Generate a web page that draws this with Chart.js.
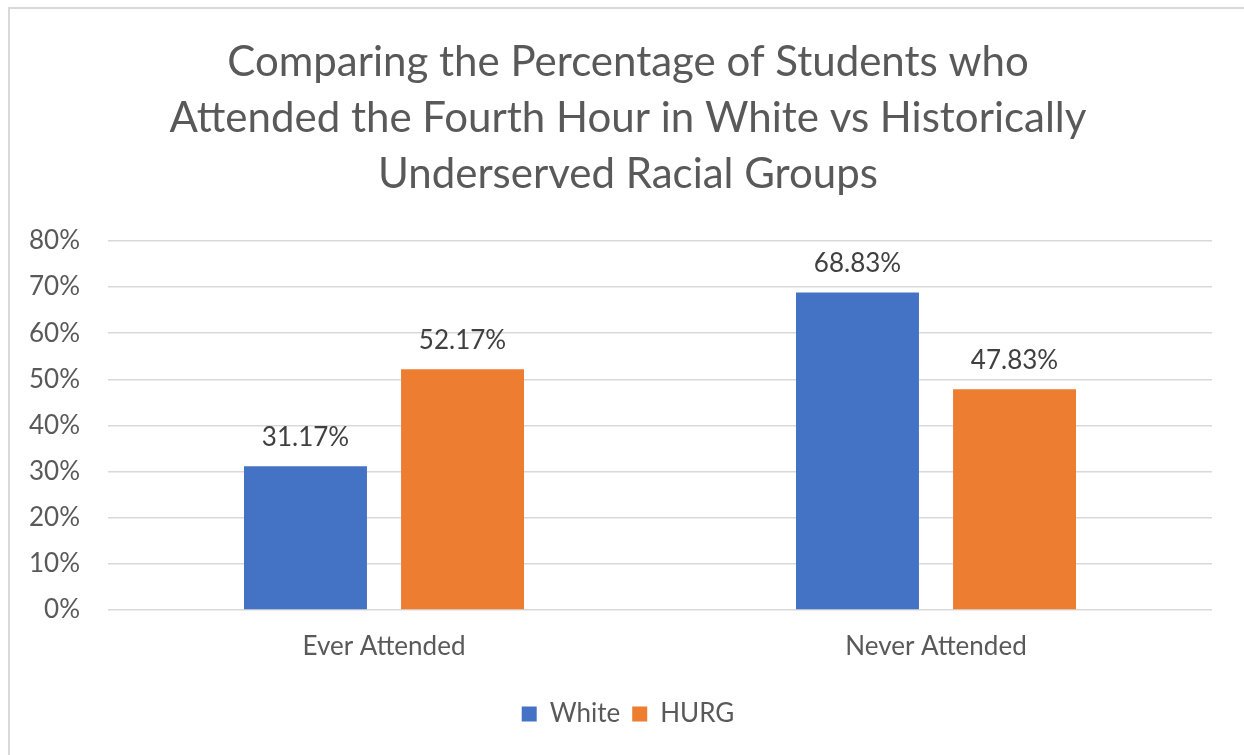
<!DOCTYPE html>
<html>
<head>
<meta charset="utf-8">
<script src="https://cdn.jsdelivr.net/npm/chart.js@4.4.1/dist/chart.umd.min.js"></script>
<style>
  html, body { margin: 0; padding: 0; background: #ffffff; overflow: hidden; }
  #frame {
    position: absolute; left: 8px; top: 7px; width: 1300px; height: 800px;
    border-left: 2px solid #d9d9d9; border-top: 2px solid #d9d9d9;
  }
  #wrap { position: absolute; left: 0; top: 0; width: 1244px; height: 755px; }
</style>
</head>
<body>
<div id="frame"></div>
<div id="wrap"><canvas id="chart" width="1244" height="755"></canvas></div>
<script>
const categories = ['Ever Attended', 'Never Attended'];
const whiteValues = [31.17, 68.83];
const hurgValues = [52.17, 47.83];
const seriesNames = ['White', 'HURG'];
const titleLines = [
  'Comparing the Percentage of Students who',
  'Attended the Fourth Hour in White vs Historically',
  'Underserved Racial Groups'
];

const FONT = 'Lato, "Open Sans", sans-serif';
const TEXT = '#595959';

// Writes each bar's value above it
const valueLabels = {
  id: 'valueLabels',
  afterDatasetsDraw(chart) {
    const ctx = chart.ctx;
    ctx.save();
    ctx.font = '26px ' + FONT;
    ctx.fillStyle = '#404040';
    ctx.textAlign = 'center';
    ctx.textBaseline = 'middle';
    chart.data.datasets.forEach((ds, i) => {
      chart.getDatasetMeta(i).data.forEach((bar, j) => {
        ctx.fillText(ds.data[j].toFixed(2) + '%', bar.x, bar.y - 29);
      });
    });
    ctx.restore();
  }
};

new Chart(document.getElementById('chart'), {
  type: 'bar',
  data: {
    labels: categories,
    datasets: [
      { label: seriesNames[0], data: whiteValues, backgroundColor: '#4472C4' },
      { label: seriesNames[1], data: hurgValues, backgroundColor: '#ED7D31' }
    ]
  },
  options: {
    responsive: false,
    animation: false,
    devicePixelRatio: 1,
    layout: { padding: { left: 20, right: 8, top: 0, bottom: 18 } },
    datasets: { bar: { categoryPercentage: 0.569, barPercentage: 0.783 } },
    scales: {
      x: {
        grid: { display: false },
        border: { display: false },
        ticks: { color: TEXT, font: { family: FONT, size: 26 }, padding: 13 },
        afterFit(scale) { scale.height = 79; }
      },
      y: {
        min: 0, max: 80,
        ticks: {
          stepSize: 10,
          color: TEXT,
          font: { family: FONT, size: 26 },
          padding: 28,
          callback: v => v + '%'
        },
        grid: { color: '#d9d9d9', lineWidth: 1.5, drawTicks: false },
        border: { display: false },
        afterFit(scale) { scale.width = 88; }
      },
      // empty right-hand margin so the plot ends short of the frame
      yRight: {
        position: 'right',
        min: 0, max: 80,
        grid: { display: false },
        border: { display: false },
        ticks: { display: false },
        afterFit(scale) { scale.width = 24; }
      }
    },
    plugins: {
      title: {
        display: true,
        text: titleLines,
        color: TEXT,
        font: { family: FONT, size: 42, weight: 'normal', lineHeight: 1.333 },
        padding: { top: 34, bottom: 39 }
      },
      legend: {
        position: 'bottom',
        labels: {
          color: TEXT,
          font: { family: FONT, size: 26 },
          boxWidth: 15, boxHeight: 15,
          padding: 12
        }
      },
      tooltip: { enabled: false }
    }
  },
  plugins: [valueLabels]
});
</script>
</body>
</html>
